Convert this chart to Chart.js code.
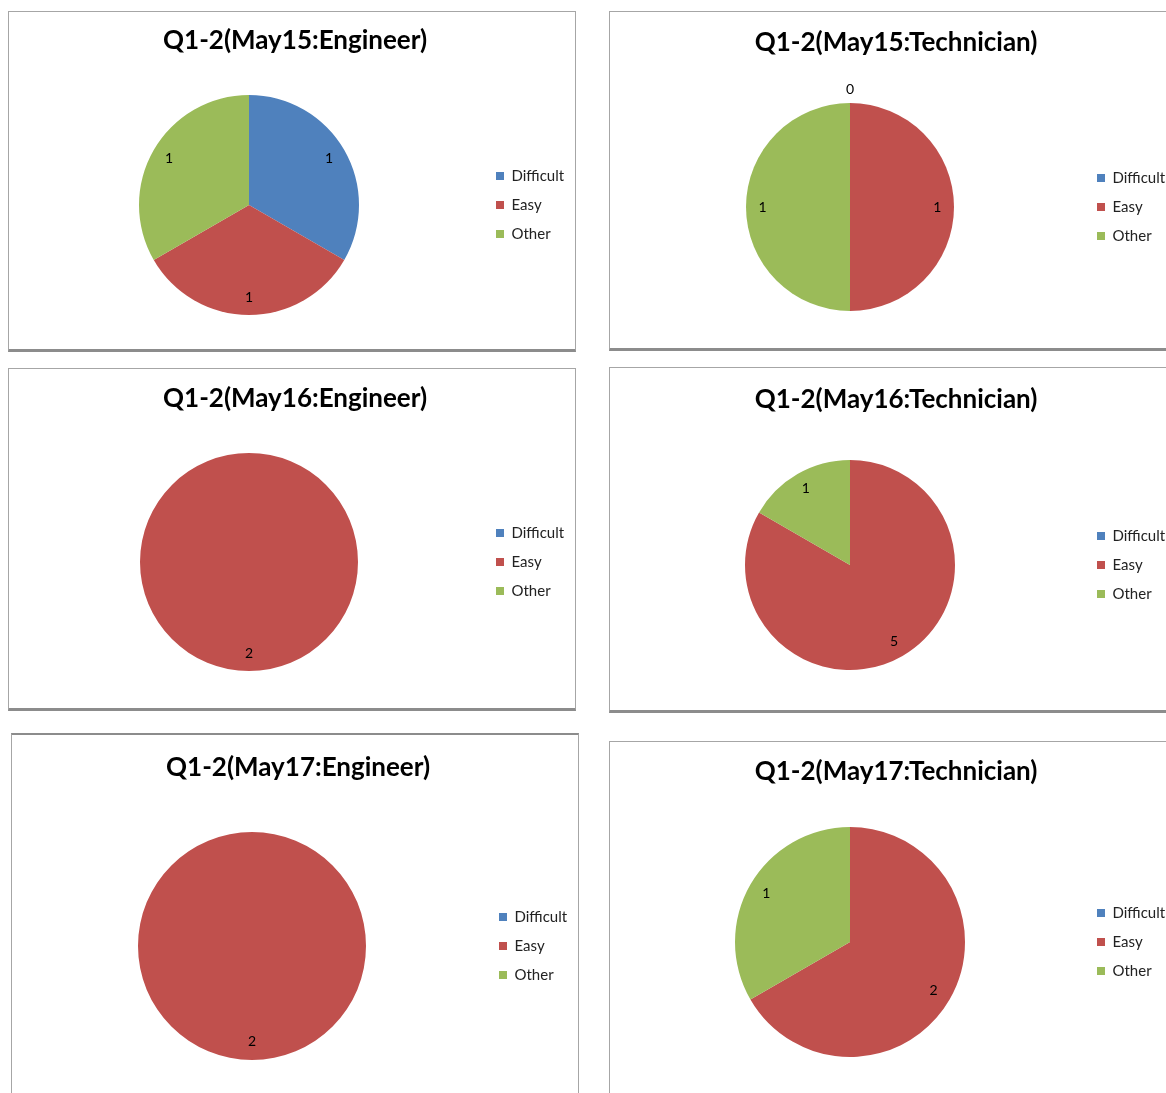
<!DOCTYPE html>
<html>
<head>
<meta charset="utf-8">
<script src="https://cdn.jsdelivr.net/npm/chart.js@4.4.0/dist/chart.umd.min.js"></script>
<style>
  body { margin: 0; background: #fff; width: 1166px; height: 1093px; overflow: hidden; position: relative; }
  .panel {
    position: absolute;
    background: #fff;
    border: 1px solid #a6a6a6;
    border-bottom: 3px solid #8c8c8c;
    box-sizing: border-box;
    overflow: hidden;
  }
  .panel canvas { display: block; }
</style>
</head>
<body>
<div id="wrap"></div>
<script>
// Q1-2 survey answers per day and role
const categories = ['Difficult', 'Easy', 'Other'];
const chartTitles = [
  'Q1-2(May15:Engineer)', 'Q1-2(May15:Technician)',
  'Q1-2(May16:Engineer)', 'Q1-2(May16:Technician)',
  'Q1-2(May17:Engineer)', 'Q1-2(May17:Technician)'
];
// null = empty cell (no label shown), 0 = zero answers
const may15Engineer = [1, 1, 1];
const may15Technician = [0, 1, 1];
const may16Engineer = [null, 2, null];
const may16Technician = [null, 5, 1];
const may17Engineer = [null, 2, null];
const may17Technician = [null, 2, 1];
const seriesList = [may15Engineer, may15Technician, may16Engineer, may16Technician, may17Engineer, may17Technician];

const sliceColors = ['#4F81BD', '#C0504D', '#9BBB59'];

// panel boxes on the page and where the pie sits inside them
const panels = [
  { left: 8,   top: 11,  width: 568, height: 341, titleY: 29, pieTop: 83, r: 110 },
  { left: 609, top: 11,  width: 568, height: 340, titleY: 31, pieTop: 91, r: 104 },
  { left: 8,   top: 368, width: 568, height: 343, titleY: 30, pieTop: 84, r: 109 },
  { left: 609, top: 367, width: 568, height: 346, titleY: 32, pieTop: 92, r: 105 },
  { left: 11,  top: 733, width: 568, height: 380, titleY: 33, pieTop: 97, r: 114, topBorder: 2 },
  { left: 609, top: 741, width: 568, height: 370, titleY: 30, pieTop: 85, r: 115 }
];

const FONT = 'Lato, "Open Sans", sans-serif';
Chart.defaults.font.family = FONT;
Chart.defaults.color = '#222';

const TITLE_SIZE = 26;
const LEGEND_SIZE = 15;
const LEGEND_PAD = 14;
const BOX = 8;

// value labels inside the slices, zero values just outside
const sliceLabels = {
  id: 'sliceLabels',
  afterDatasetsDraw(chart) {
    const ctx = chart.ctx;
    const raw = chart.data.datasets[0].data;
    const meta = chart.getDatasetMeta(0);
    ctx.save();
    ctx.font = '14px ' + FONT;
    ctx.fillStyle = '#000';
    ctx.textAlign = 'center';
    ctx.textBaseline = 'middle';
    meta.data.forEach((arc, i) => {
      const v = raw[i];
      if (v === null || v === undefined) return;
      const p = arc.getProps(['x', 'y', 'startAngle', 'endAngle', 'outerRadius'], true);
      const mid = (p.startAngle + p.endAngle) / 2;
      const d = v === 0 ? p.outerRadius + 14 : p.outerRadius * 0.84;
      ctx.fillText(String(v), p.x + Math.cos(mid) * d, p.y + Math.sin(mid) * d);
    });
    ctx.restore();
  }
};

// legend width as Chart.js computes it for a vertical legend
const measure = document.createElement('canvas').getContext('2d');
measure.font = LEGEND_SIZE + 'px ' + FONT;
const maxText = Math.max(...categories.map(c => measure.measureText(c).width));
const legendWidth = 10 + LEGEND_PAD + BOX + LEGEND_SIZE / 2 + maxText;

const wrap = document.getElementById('wrap');

panels.forEach((pn, idx) => {
  const div = document.createElement('div');
  div.className = 'panel';
  div.style.left = pn.left + 'px';
  div.style.top = pn.top + 'px';
  div.style.width = pn.width + 'px';
  div.style.height = pn.height + 'px';
  if (pn.topBorder) div.style.borderTop = pn.topBorder + 'px solid #8c8c8c';
  const canvas = document.createElement('canvas');
  const W = pn.width - 2;
  const H = pn.height - 4;
  canvas.width = W;
  canvas.height = H;
  div.appendChild(canvas);
  wrap.appendChild(div);

  const lineH = TITLE_SIZE * 1.2;
  const titleTop = pn.titleY - lineH / 2;
  const titleBottom = pn.pieTop - titleTop - lineH;
  const cx = 240;
  const areaRight = 473;
  const padL = cx - (areaRight - cx);
  const padR = W - areaRight - legendWidth;

  new Chart(canvas, {
    type: 'pie',
    data: {
      labels: categories,
      datasets: [{
        data: seriesList[idx],
        backgroundColor: sliceColors,
        borderWidth: 0
      }]
    },
    options: {
      responsive: false,
      animation: false,
      events: [],
      layout: {
        padding: { left: padL, right: padR, top: 0, bottom: H - pn.pieTop - 2 * pn.r }
      },
      plugins: {
        title: {
          display: true,
          text: chartTitles[idx],
          color: '#000',
          font: { size: TITLE_SIZE, weight: 'bold' },
          padding: { top: titleTop, bottom: titleBottom }
        },
        legend: {
          position: 'right',
          fullSize: false,
          labels: {
            boxWidth: BOX,
            boxHeight: BOX,
            padding: LEGEND_PAD,
            color: '#222',
            font: { size: LEGEND_SIZE }
          }
        },
        tooltip: { enabled: false }
      }
    },
    plugins: [sliceLabels]
  });
});
</script>
</body>
</html>
